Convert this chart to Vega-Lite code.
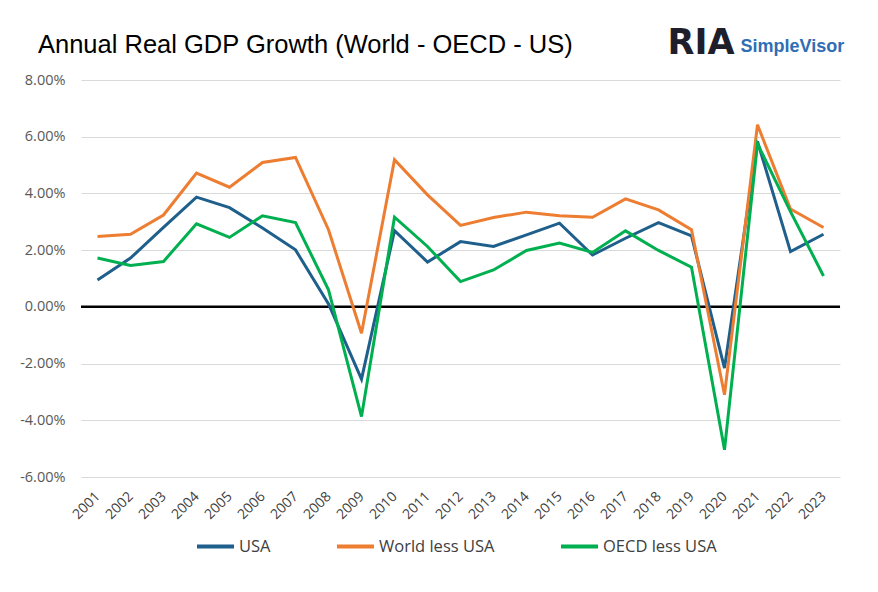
{
  "$schema": "https://vega.github.io/schema/vega-lite/v6.json",
  "autosize": "none",
  "width": 759,
  "height": 397,
  "padding": {"left": 81, "top": 80, "right": 38, "bottom": 115},
  "background": "white",
  "title": {
    "text": "Annual Real GDP Growth (World - OECD - US)",
    "anchor": "start",
    "frame": "group",
    "dx": -43,
    "offset": -33,
    "font": "Liberation Sans",
    "fontSize": 25.5,
    "fontWeight": "normal",
    "color": "#000000"
  },
  "config": {
    "view": {"stroke": null},
    "font": "Open Sans"
  },
  "datasets": {
    "gdp": [
      {"year": "2001", "series": "USA", "value": 0.0095},
      {"year": "2002", "series": "USA", "value": 0.0172},
      {"year": "2003", "series": "USA", "value": 0.028},
      {"year": "2004", "series": "USA", "value": 0.0387},
      {"year": "2005", "series": "USA", "value": 0.035},
      {"year": "2006", "series": "USA", "value": 0.0278},
      {"year": "2007", "series": "USA", "value": 0.0201},
      {"year": "2008", "series": "USA", "value": 0.001},
      {"year": "2009", "series": "USA", "value": -0.0255},
      {"year": "2010", "series": "USA", "value": 0.0269},
      {"year": "2011", "series": "USA", "value": 0.0158},
      {"year": "2012", "series": "USA", "value": 0.023},
      {"year": "2013", "series": "USA", "value": 0.0213},
      {"year": "2014", "series": "USA", "value": 0.0254},
      {"year": "2015", "series": "USA", "value": 0.0295},
      {"year": "2016", "series": "USA", "value": 0.0183},
      {"year": "2017", "series": "USA", "value": 0.0242},
      {"year": "2018", "series": "USA", "value": 0.0297},
      {"year": "2019", "series": "USA", "value": 0.025},
      {"year": "2020", "series": "USA", "value": -0.0216},
      {"year": "2021", "series": "USA", "value": 0.0583},
      {"year": "2022", "series": "USA", "value": 0.0195},
      {"year": "2023", "series": "USA", "value": 0.0256},
      {"year": "2001", "series": "World less USA", "value": 0.0248},
      {"year": "2002", "series": "World less USA", "value": 0.0256},
      {"year": "2003", "series": "World less USA", "value": 0.0324},
      {"year": "2004", "series": "World less USA", "value": 0.0472},
      {"year": "2005", "series": "World less USA", "value": 0.0422},
      {"year": "2006", "series": "World less USA", "value": 0.0509},
      {"year": "2007", "series": "World less USA", "value": 0.0527},
      {"year": "2008", "series": "World less USA", "value": 0.0272},
      {"year": "2009", "series": "World less USA", "value": -0.0093},
      {"year": "2010", "series": "World less USA", "value": 0.0519},
      {"year": "2011", "series": "World less USA", "value": 0.0395},
      {"year": "2012", "series": "World less USA", "value": 0.0287},
      {"year": "2013", "series": "World less USA", "value": 0.0315},
      {"year": "2014", "series": "World less USA", "value": 0.0334},
      {"year": "2015", "series": "World less USA", "value": 0.0321},
      {"year": "2016", "series": "World less USA", "value": 0.0316},
      {"year": "2017", "series": "World less USA", "value": 0.0381},
      {"year": "2018", "series": "World less USA", "value": 0.0342},
      {"year": "2019", "series": "World less USA", "value": 0.0272},
      {"year": "2020", "series": "World less USA", "value": -0.031},
      {"year": "2021", "series": "World less USA", "value": 0.0642},
      {"year": "2022", "series": "World less USA", "value": 0.0345},
      {"year": "2023", "series": "World less USA", "value": 0.028},
      {"year": "2001", "series": "OECD less USA", "value": 0.0172},
      {"year": "2002", "series": "OECD less USA", "value": 0.0146},
      {"year": "2003", "series": "OECD less USA", "value": 0.016},
      {"year": "2004", "series": "OECD less USA", "value": 0.0293},
      {"year": "2005", "series": "OECD less USA", "value": 0.0245},
      {"year": "2006", "series": "OECD less USA", "value": 0.0321},
      {"year": "2007", "series": "OECD less USA", "value": 0.0297},
      {"year": "2008", "series": "OECD less USA", "value": 0.006},
      {"year": "2009", "series": "OECD less USA", "value": -0.0387},
      {"year": "2010", "series": "OECD less USA", "value": 0.0316},
      {"year": "2011", "series": "OECD less USA", "value": 0.0213},
      {"year": "2012", "series": "OECD less USA", "value": 0.0089},
      {"year": "2013", "series": "OECD less USA", "value": 0.013},
      {"year": "2014", "series": "OECD less USA", "value": 0.0199},
      {"year": "2015", "series": "OECD less USA", "value": 0.0225},
      {"year": "2016", "series": "OECD less USA", "value": 0.0192},
      {"year": "2017", "series": "OECD less USA", "value": 0.0268},
      {"year": "2018", "series": "OECD less USA", "value": 0.0199},
      {"year": "2019", "series": "OECD less USA", "value": 0.014},
      {"year": "2020", "series": "OECD less USA", "value": -0.0504},
      {"year": "2021", "series": "OECD less USA", "value": 0.0575},
      {"year": "2022", "series": "OECD less USA", "value": 0.0336},
      {"year": "2023", "series": "OECD less USA", "value": 0.0109}
    ],
    "logo": [
      {"year": "2021", "value": 0.09, "part": "RIA"},
      {"year": "2021", "value": 0.09, "part": "SimpleVisor"}
    ]
  },
  "layer": [
    {
      "data": {"values": [{"zero": 0}]},
      "mark": {"type": "rule", "color": "#000000", "strokeWidth": 2.5},
      "encoding": {
        "y": {"datum": 0, "type": "quantitative"}
      }
    },
    {
      "data": {"name": "gdp"},
      "mark": {"type": "line", "strokeWidth": 3, "strokeJoin": "miter"},
      "encoding": {
        "x": {
          "field": "year",
          "type": "ordinal",
          "scale": {"type": "point", "padding": 0.5},
          "axis": {
            "title": null,
            "domain": false,
            "ticks": false,
            "grid": false,
            "labelAngle": -45,
            "labelAlign": "right",
            "labelBaseline": "middle",
            "labelPadding": 17,
            "labelFont": "Open Sans",
            "labelFontSize": 14,
            "labelColor": "#404040"
          }
        },
        "y": {
          "field": "value",
          "type": "quantitative",
          "scale": {"domain": [-0.06, 0.08], "nice": false, "zero": false},
          "axis": {
            "title": null,
            "labelExpr": "replace(format(datum.value, '.2%'), '\u2212', '-')",
            "values": [-0.06, -0.04, -0.02, 0, 0.02, 0.04, 0.06, 0.08],
            "domain": false,
            "ticks": false,
            "grid": true,
            "gridColor": "#D9D9D9",
            "gridWidth": 1,
            "labelPadding": 16,
            "labelFont": "Open Sans",
            "labelFontSize": 14.5,
            "labelColor": "#595959"
          }
        },
        "color": {
          "field": "series",
          "type": "nominal",
          "scale": {
            "domain": ["USA", "World less USA", "OECD less USA"],
            "range": ["#1F5F8B", "#ED7D31", "#00B050"]
          },
          "legend": {
            "title": null,
            "orient": "none",
            "legendX": 114,
            "legendY": 446,
            "direction": "horizontal",
            "symbolType": "stroke",
            "symbolStrokeWidth": 4,
            "symbolSize": 1369,
            "labelFont": "Open Sans",
            "labelFontSize": 16.5,
            "labelColor": "#404040",
            "labelOffset": 3,
            "columnPadding": 58
          }
        }
      }
    },
    {
      "data": {"name": "logo"},
      "transform": [{"filter": "datum.part === 'RIA'"}],
      "mark": {"type": "text", "align": "right", "baseline": "middle", "dx": -23, "dy": -9, "font": "DejaVu Sans", "fontSize": 35, "fontWeight": "bold", "color": "#1E1F2B"},
      "encoding": {
        "x": {"field": "year", "type": "ordinal"},
        "y": {"field": "value", "type": "quantitative"},
        "text": {"field": "part"}
      }
    },
    {
      "data": {"name": "logo"},
      "transform": [{"filter": "datum.part === 'SimpleVisor'"}],
      "mark": {"type": "text", "align": "left", "baseline": "middle", "dx": -17, "dy": -5, "font": "Liberation Sans", "fontSize": 18, "fontWeight": "bold", "color": "#2F6EB5"},
      "encoding": {
        "x": {"field": "year", "type": "ordinal"},
        "y": {"field": "value", "type": "quantitative"},
        "text": {"field": "part"}
      }
    }
  ]
}
